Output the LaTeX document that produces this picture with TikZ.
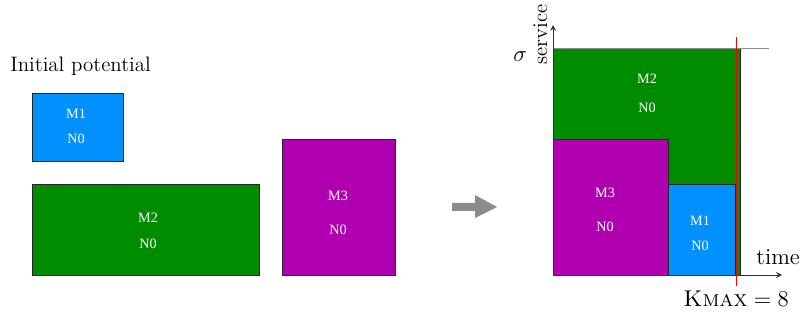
\documentclass[tikz,border=0pt]{standalone}
\usepackage{fontspec}
\newfontfamily\boxfont{Liberation Serif}
\definecolor{mblue}{RGB}{0,145,255}
\definecolor{mgreen}{RGB}{0,140,0}
\definecolor{mpurple}{RGB}{176,0,176}

\begin{document}
\begin{tikzpicture}[x=0.0185cm, y=-0.0185cm, >=stealth,
    box/.style={draw=black!85, line width=0.5pt},
    lbl/.style={text=white, inner sep=0pt, font=\boxfont\fontsize{7.5}{9}\selectfont}]
    \useasboundingbox (0,0) rectangle (800,321);

    % left: the initial potential
    \node[anchor=base west, inner sep=0pt, font=\fontsize{11}{13}\selectfont] (title) at (10,72) {Initial potential};

    \fill[mblue, box] (32,93) rectangle (123,161);
    \fill[mgreen, box] (32,184) rectangle (259,275);
    \fill[mpurple, box] (282,139) rectangle (395,275);

    \node[lbl] (m1l) at (76,114) {M1};
    \node[lbl] (n1l) at (76,139) {N0};
    \node[lbl] (m2l) at (148,218) {M2};
    \node[lbl] (n2l) at (148,244) {N0};
    \node[lbl] (m3l) at (338,196) {M3};
    \node[lbl] (n3l) at (338,230) {N0};

    % gray arrow
    \fill[black!45] (452,203) -- (475,203) -- (475,195) -- (497,207)
        -- (475,218) -- (475,211) -- (452,211) -- cycle;

    % right: the schedule
    \fill[mgreen, box] (553,48) rectangle (740,275);
    \draw[black!70] (553,139) -- (740,139);
    \fill[mpurple, box] (553,139) rectangle (668,275);
    \fill[mblue, box] (668,184) rectangle (735,275);

    \node[lbl] (m2r) at (647,79) {M2};
    \node[lbl] (n2r) at (647,108) {N0};
    \node[lbl] (m3r) at (605,193) {M3};
    \node[lbl] (n3r) at (605,227) {N0};
    \node[lbl] (m1r) at (700,221) {M1};
    \node[lbl] (n1r) at (700,246) {N0};

    \draw[black!45] (553,48) -- (769,48);
    \draw[->, black!80] (553,275) -- (782,275);
    \draw[->, black!80] (553,275) -- (553,25);
    \draw[red, line width=0.3pt] (736,37) -- (736,286);

    \node[anchor=base west, inner sep=0pt, font=\large] (time) at (756,265) {time};
    \node[anchor=base, inner sep=0pt, font=\large] (kmax) at (736,307) {$\textsc{Kmax}=8$};
    \node[anchor=base, inner sep=0pt, font=\large] (sigma) at (520,62) {$\sigma$};
    \node[rotate=90, anchor=base west, inner sep=0pt, font=\fontsize{11}{13}\selectfont] (service) at (547,65) {service};
\end{tikzpicture}
\end{document}
